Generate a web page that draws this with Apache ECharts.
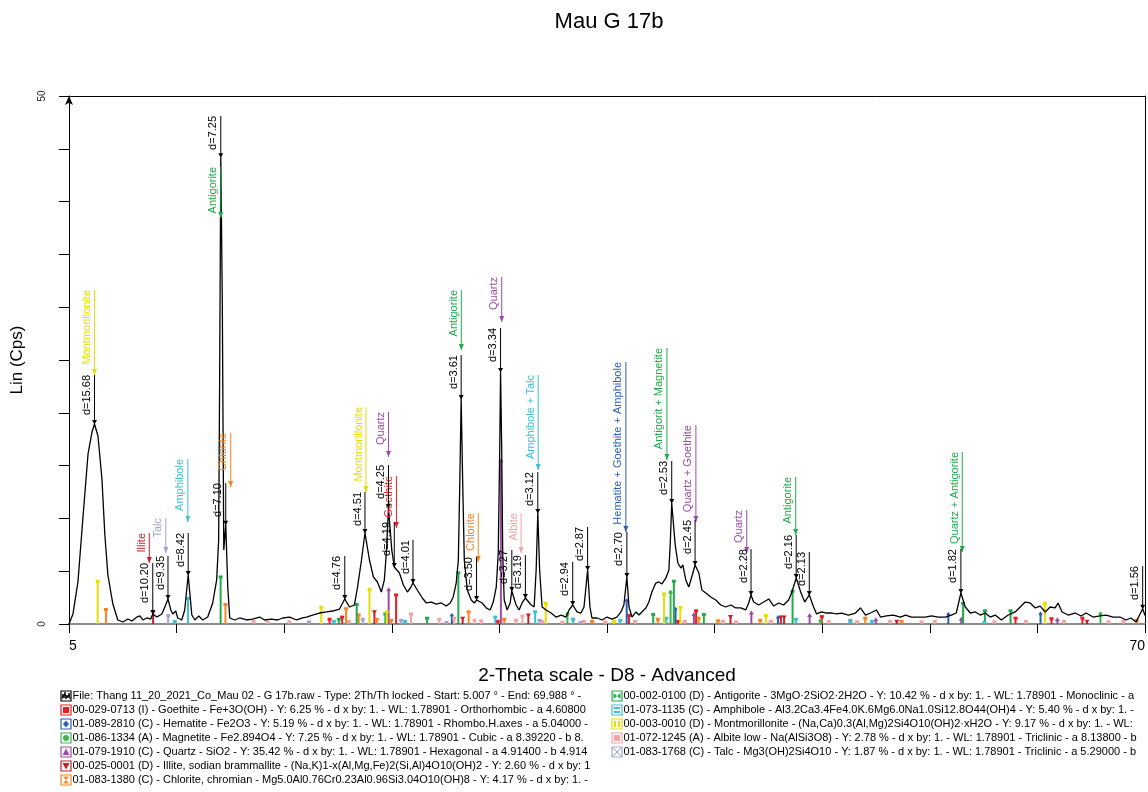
<!DOCTYPE html>
<html><head><meta charset="utf-8">
<script src="https://cdn.jsdelivr.net/npm/echarts@6/dist/echarts.min.js"></script>
<style>html,body{margin:0;padding:0;background:#fff}#c{width:1148px;height:792px}</style>
</head><body><div id="c"></div>
<script>
// ---------- DATA ----------
const chartTitle = 'Mau G 17b';
const xTickLabels = [5, 70];
const yTickLabels = [0, 50];

// measured pattern: [2-theta, Lin (Cps)]
const profile = [[5.00,0],[5.24,0.95],[5.54,3.98],[5.84,10.04],[6.15,16.10],[6.39,18.18],[6.54,18.94],[6.75,17.80],[6.99,13.73],[7.17,8.33],[7.35,4.64],[7.65,1.89],[7.95,0.38],[8.26,0.19],[8.56,0.47],[8.80,0.28],[9.10,0.66],[9.28,0.76],[9.46,0.38],[9.70,0.57],[9.94,0.47],[10.06,0.95],[10.31,0.66],[10.61,0.95],[10.79,1.61],[10.98,2.37],[11.15,1.33],[11.27,0.95],[11.45,1.23],[11.57,0.57],[11.81,0.38],[11.99,1.33],[12.20,4.64],[12.42,0.85],[12.60,0.38],[12.84,0.76],[13.08,0.38],[13.38,0.66],[13.68,1.99],[13.92,4.17],[14.04,7.95],[14.10,23.1],[14.17,44.2],[14.26,30.7],[14.35,7.0],[14.47,9.4],[14.59,3.5],[14.71,0.57],[15.01,0.38],[15.31,0.57],[15.73,0.38],[16.09,0.47],[16.52,0.66],[16.82,0.38],[17.24,0.47],[17.60,0.38],[17.90,0.57],[18.33,0.66],[18.75,0.38],[19.11,0.57],[19.35,0.66],[19.71,0.85],[20.13,1.04],[20.56,1.14],[20.92,1.23],[21.34,1.42],[21.66,2.37],[21.94,1.61],[22.24,1.80],[22.43,3.50],[22.67,6.06],[22.88,8.62],[23.15,6.06],[23.39,4.45],[23.63,3.98],[23.87,3.03],[24.05,4.17],[24.17,6.72],[24.30,10.98],[24.50,7.0],[24.65,5.40],[24.96,4.83],[25.20,3.69],[25.44,3.03],[25.62,3.41],[25.78,3.88],[26.04,3.22],[26.34,2.46],[26.59,1.99],[26.89,2.08],[27.19,1.89],[27.49,1.99],[27.79,1.70],[28.03,1.99],[28.21,2.56],[28.39,3.88],[28.52,6.06],[28.61,13.6],[28.69,21.3],[28.78,13.6],[28.88,6.06],[29.06,3.22],[29.30,2.27],[29.48,1.99],[29.62,2.27],[29.96,1.99],[30.20,1.52],[30.44,1.33],[30.63,2.08],[30.81,3.50],[30.93,6.72],[31.02,16.5],[31.07,23.86],[31.14,16.5],[31.20,6.72],[31.29,2.27],[31.47,1.33],[31.65,1.99],[31.75,3.13],[32.01,1.80],[32.19,1.33],[32.37,1.99],[32.57,2.46],[32.92,1.80],[33.10,1.61],[33.22,5.11],[33.32,10.51],[33.43,5.11],[33.58,1.61],[33.82,1.33],[34.12,1.04],[34.42,0.66],[34.73,0.85],[35.03,0.66],[35.21,1.33],[35.43,1.80],[35.69,1.14],[35.93,1.04],[36.11,1.61],[36.33,5.11],[36.47,1.61],[36.59,0.57],[36.90,0.57],[37.20,0.38],[37.50,0.66],[37.80,0.47],[38.10,0.66],[38.34,1.14],[38.52,1.80],[38.70,4.45],[38.83,1.61],[39.01,0.66],[39.25,1.14],[39.43,0.85],[39.61,1.14],[39.85,1.52],[40.03,2.08],[40.21,3.03],[40.45,3.88],[40.63,3.98],[40.82,3.79],[41.06,4.36],[41.24,5.11],[41.33,7.95],[41.41,11.46],[41.52,9.38],[41.62,7.48],[41.78,5.78],[41.96,5.30],[42.08,5.59],[42.26,4.17],[42.44,3.50],[42.62,4.45],[42.82,5.59],[43.05,4.83],[43.23,3.22],[43.47,2.94],[43.77,2.56],[44.07,2.27],[44.37,1.80],[44.67,1.61],[44.98,1.80],[45.28,1.52],[45.58,1.52],[45.88,1.33],[46.06,1.99],[46.20,2.75],[46.36,2.08],[46.66,1.80],[46.97,2.08],[47.27,2.37],[47.57,1.70],[47.87,1.99],[48.17,1.80],[48.47,2.27],[48.65,2.94],[48.93,4.36],[49.20,3.03],[49.44,2.08],[49.72,2.75],[49.98,1.61],[50.16,0.95],[50.46,1.14],[50.76,1.04],[51.07,1.04],[51.37,0.95],[51.67,1.04],[52.09,0.85],[52.51,1.04],[52.81,1.52],[53.12,0.85],[53.42,1.04],[53.78,1.33],[54.02,0.66],[54.38,0.76],[54.80,0.85],[55.23,0.66],[55.53,0.85],[55.89,0.66],[56.31,0.66],[56.73,0.66],[57.10,0.76],[57.52,0.66],[57.94,0.66],[58.30,0.85],[58.60,1.04],[58.88,2.94],[59.14,1.61],[59.45,1.04],[59.75,1.14],[60.05,0.85],[60.35,1.04],[60.65,0.66],[60.95,0.85],[61.32,0.38],[61.74,0.85],[62.16,1.14],[62.46,1.61],[62.76,2.08],[63.06,1.99],[63.37,1.52],[63.67,1.70],[63.97,1.14],[64.27,1.61],[64.57,1.52],[64.75,1.99],[64.99,1.14],[65.36,0.85],[65.78,1.04],[66.14,0.76],[66.44,1.04],[66.86,0.66],[67.28,0.76],[67.65,0.85],[68.07,0.66],[68.49,0.66],[68.85,0.38],[69.15,0.57],[69.46,0.19],[69.86,1.45],[70.00,0.8]];

// reference patterns (sticks): [2-theta, height]
const goethiteSticks = [[20.74,0.5],[21.50,0.7],[24.76,2.8],[30.9,0.3],[38.83,0.85],[41.80,0.3],[42.88,1.3],[50.48,0.75],[62.18,0.6],[64.35,0.55],[66.22,0.6]];
const hematiteSticks = [[28.13,0.8],[38.69,2.2],[41.64,1.4],[47.83,0.6],[58.12,0.9],[63.69,0.95]];
const magnetiteSticks = [[35.11,0.95],[41.34,3.0],[50.40,0.3],[67.31,0.95]];
const quartzSticks = [[24.31,3.3],[31.09,15.5],[42.75,0.95],[46.22,1.1],[49.74,0.85],[53.74,0.45],[58.90,0.5],[64.71,0.45]];
const illiteSticks = [[10.08,1.17],[23.45,1.2],[28.78,0.6],[32.75,0.9],[44.96,0.75],[48.00,0.7],[48.20,0.7],[55.00,0.3],[66.50,0.3]];
const chloriteSticks = [[7.23,1.42],[14.45,1.89],[21.74,1.5],[22.50,0.9],[23.59,0.5],[24.46,0.4],[29.14,1.2],[31.29,0.5],[36.60,0.3],[40.57,0.5],[43.04,0.6],[44.20,0.35],[46.76,0.4],[52.20,0.4],[53.10,0.6],[55.30,0.3],[69.50,0.4]];
const antigoriteSticks = [[14.16,4.5],[21.30,0.5],[22.38,1.9],[24.11,1.0],[26.63,0.6],[28.52,4.9],[40.29,0.95],[41.54,4.1],[43.35,0.95],[48.71,3.15],[59.01,2.0],[60.33,1.3],[61.88,1.3]];
const amphiboleSticks = [[11.39,0.28],[12.19,2.46],[21.00,0.3],[25.30,0.3],[30.75,0.7],[33.16,1.2],[35.45,0.5],[38.30,0.4],[41.08,0.6],[48.91,0.5],[52.20,0.3],[53.50,0.3],[60.30,0.2]];
const montmorilloniteSticks = [[6.73,4.07],[20.24,1.64],[23.15,3.3],[24.19,1.2],[33.80,2.0],[37.92,0.3],[40.94,2.9],[41.93,1.6],[47.10,0.85],[63.95,2.0]];
const albiteSticks = [[16.15,0.3],[17.00,0.2],[18.30,0.25],[21.90,0.3],[25.66,1.0],[27.37,0.5],[28.27,0.6],[29.50,0.4],[29.90,0.35],[32.00,0.4],[32.39,0.8],[33.60,0.3],[34.80,0.2],[36.10,0.3],[37.40,0.25],[39.20,0.3],[42.20,0.3],[44.50,0.3],[45.30,0.25],[47.40,0.3],[50.90,0.3],[52.60,0.25],[54.60,0.3],[56.50,0.25],[57.30,0.3],[60.90,0.25],[62.80,0.3],[65.10,0.3],[67.80,0.25],[68.70,0.3]];
const talcSticks = [[10.99,0.85],[19.50,0.25],[22.75,0.5],[25.06,0.4],[27.80,0.2],[33.42,0.4],[35.90,0.2]];

// d-spacing peak labels
const dText = ['d=15.68','d=10.20','d=9.35','d=8.42','d=7.25','d=7.10','d=4.76','d=4.51','d=4.25','d=4.19','d=4.01','d=3.61','d=3.50','d=3.34','d=3.27','d=3.19','d=3.12','d=2.94','d=2.87','d=2.70','d=2.53','d=2.45','d=2.28','d=2.16','d=2.13','d=1.82','d=1.56'];
const dPos = [6.54,10.06,10.98,12.20,14.17,14.47,21.66,22.88,24.30,24.65,25.78,28.69,29.62,31.07,31.75,32.57,33.32,35.43,36.33,38.70,41.41,42.82,46.20,48.93,49.72,58.88,69.86];
const dPeak = [18.94,0.95,2.37,4.64,44.2,9.4,2.37,8.62,10.98,5.40,3.88,21.3,2.27,23.86,3.13,2.46,10.51,1.80,5.11,4.45,11.46,5.59,2.75,4.36,2.75,2.94,1.45];
const dTop = [23.58,5.78,6.44,8.62,48.11,13.35,6.44,12.50,15.06,9.66,7.95,25.47,6.34,28.03,7.01,6.53,14.39,5.87,9.19,8.71,15.44,9.85,7.10,8.43,6.82,7.10,5.49];

// phase identification labels
const pText = ['Montmorillonite','Illite','Talc','Amphibole','Antigorite','Chlorite','Montmorillonite','Quartz','Goethite','Antigorite','Quartz','Chlorite','Albite','Amphibole + Talc','Hematite + Goethite + Amphibole','Antigorit + Magnetite','Quartz + Goethite','Quartz','Antigorite','Quartz + Antigorite'];
const pPhase = ['mont','illite','talc','amph','antig','chlor','mont','quartz','goeth','antig','quartz','chlor','albite','amph','hem','antig','quartz','quartz','antig','antig'];
const pPos = [6.54,9.85,10.85,12.18,14.17,14.77,22.94,24.30,24.78,28.70,31.14,29.72,32.31,33.34,38.64,41.12,42.87,45.94,48.90,58.96];
const pTip = [23.58,5.78,6.72,9.66,38.45,12.97,12.5,15.81,9.09,25.95,28.6,5.87,6.72,14.58,8.71,15.53,9.66,6.72,8.43,6.82];
const pTop = [31.63,8.62,10.04,15.63,43.28,18.09,20.55,20.08,14.02,31.63,32.86,10.51,10.51,23.58,24.81,26.14,18.84,10.80,13.92,16.29];

// legend
const legendLeftText = [
 'File: Thang 11_20_2021_Co_Mau 02 - G 17b.raw - Type: 2Th/Th locked - Start: 5.007 ° - End: 69.988 ° -',
 '00-029-0713 (I) - Goethite - Fe+3O(OH) - Y: 6.25 % - d x by: 1. - WL: 1.78901 - Orthorhombic - a 4.60800',
 '01-089-2810 (C) - Hematite - Fe2O3 - Y: 5.19 % - d x by: 1. - WL: 1.78901 - Rhombo.H.axes - a 5.04000 -',
 '01-086-1334 (A) - Magnetite - Fe2.894O4 - Y: 7.25 % - d x by: 1. - WL: 1.78901 - Cubic - a 8.39220 - b 8.',
 '01-079-1910 (C) - Quartz - SiO2 - Y: 35.42 % - d x by: 1. - WL: 1.78901 - Hexagonal - a 4.91400 - b 4.914',
 '00-025-0001 (D) - Illite, sodian brammallite - (Na,K)1-x(Al,Mg,Fe)2(Si,Al)4O10(OH)2 - Y: 2.60 % - d x by: 1',
 '01-083-1380 (C) - Chlorite, chromian - Mg5.0Al0.76Cr0.23Al0.96Si3.04O10(OH)8 - Y: 4.17 % - d x by: 1. -'];
const legendLeftIcon = ['file','goeth','hem','magn','quartz','illite','chlor'];
const legendRightText = [
 '00-002-0100 (D) - Antigorite - 3MgO·2SiO2·2H2O - Y: 10.42 % - d x by: 1. - WL: 1.78901 - Monoclinic - a',
 '01-073-1135 (C) - Amphibole - Al3.2Ca3.4Fe4.0K.6Mg6.0Na1.0Si12.8O44(OH)4 - Y: 5.40 % - d x by: 1. -',
 '00-003-0010 (D) - Montmorillonite - (Na,Ca)0.3(Al,Mg)2Si4O10(OH)2·xH2O - Y: 9.17 % - d x by: 1. - WL:',
 '01-072-1245 (A) - Albite low - Na(AlSi3O8) - Y: 2.78 % - d x by: 1. - WL: 1.78901 - Triclinic - a 8.13800 - b',
 '01-083-1768 (C) - Talc - Mg3(OH)2Si4O10 - Y: 1.87 % - d x by: 1. - WL: 1.78901 - Triclinic - a 5.29000 - b'];
const legendRightIcon = ['antig','amph','mont','albite','talc'];

// ---------- STYLE ----------
const FONT = '"Liberation Sans", Arial, sans-serif';
const phaseColor = {goeth:'#ee1c24', hem:'#2b5fb4', magn:'#3db54a', quartz:'#9b4ca6', illite:'#c81e2a', chlor:'#f7841f', antig:'#22ab4b', amph:'#3fc0d2', mont:'#e6de00', albite:'#f5a3a3', talc:'#a3a3d6', file:'#000'};
const phaseShape = {goeth:'rect', hem:'diamond', magn:'circle', quartz:'tri', illite:'tridown', chlor:'rect', antig:'rect', amph:'rect', mont:'rect', albite:'rect', talc:'rect'};

function marker(shape, x, y, color){
  if (shape==='tri') return {type:'polygon', shape:{points:[[x-2.5,y+2],[x+2.5,y+2],[x,y-2]]}, style:{fill:color}};
  if (shape==='tridown') return {type:'polygon', shape:{points:[[x-2.5,y-1],[x+2.5,y-1],[x,y+3]]}, style:{fill:color}};
  if (shape==='circle') return {type:'circle', shape:{cx:x, cy:y, r:2}, style:{fill:color}};
  if (shape==='diamond') return {type:'polygon', shape:{points:[[x,y-2.5],[x+2,y],[x,y+2.5],[x-2,y]]}, style:{fill:color}};
  return {type:'rect', shape:{x:x-2, y:y-1, width:4, height:3}, style:{fill:color}};
}

function stickSeries(data, key){
  const color = phaseColor[key], shape = phaseShape[key];
  return {type:'custom', data, silent:true, z:3, clip:true,
    renderItem:(params, api)=>{
      const x = api.value(0), h = api.value(1);
      const p0 = api.coord([x,0]), p1 = api.coord([x,h]);
      return {type:'group', children:[
        {type:'line', shape:{x1:p0[0], y1:p0[1], x2:p1[0], y2:p1[1]}, style:{stroke:color, lineWidth:2}},
        marker(shape, p1[0], p1[1], color)]};
    }};
}

const dData = dPos.map((x,i)=>[x, dPeak[i], dTop[i]]);
const pData = pPos.map((x,i)=>[x, pTip[i], pTop[i]]);

function dRender(params, api){
  const i = params.dataIndex;
  const a = api.coord([api.value(0), api.value(1)]), b = api.coord([api.value(0), api.value(2)]);
  return {type:'group', children:[
    {type:'line', shape:{x1:a[0], y1:a[1], x2:b[0], y2:b[1]}, style:{stroke:'#000', lineWidth:1}},
    {type:'polygon', shape:{points:[[a[0]-2.5,a[1]-4],[a[0]+2.5,a[1]-4],[a[0],a[1]+0.5]]}, style:{fill:'#000'}},
    {type:'text', x:b[0]-2, y:b[1], rotation:Math.PI/2,
     style:{text:dText[i], fill:'#000', font:'11px '+FONT, align:'right', verticalAlign:'bottom'}}
  ]};
}
function pRender(params, api){
  const i = params.dataIndex, color = phaseColor[pPhase[i]];
  const a = api.coord([api.value(0), api.value(1)]), b = api.coord([api.value(0), api.value(2)]);
  return {type:'group', children:[
    {type:'line', shape:{x1:a[0], y1:a[1], x2:b[0], y2:b[1]}, style:{stroke:color, lineWidth:1}},
    {type:'polygon', shape:{points:[[a[0]-2.5,a[1]-6],[a[0]+2.5,a[1]-6],[a[0],a[1]]]}, style:{fill:color}},
    {type:'text', x:b[0]-2, y:b[1], rotation:Math.PI/2,
     style:{text:pText[i], fill:color, font:'11px '+FONT, align:'right', verticalAlign:'bottom'}}
  ]};
}

// legend graphics
function legendIcon(key, cx, cy){
  const c = phaseColor[key];
  const els = [{type:'rect', shape:{x:cx-5, y:cy-5, width:10, height:10}, style:{fill:'#fff', stroke:c, lineWidth:1.2}}];
  if (key==='file') els.push({type:'polyline', shape:{points:[[cx-4,cy+3],[cx-3,cy-2],[cx-2,cy+2],[cx-1,cy-4],[cx,cy+3],[cx+1,cy-1],[cx+2,cy+2],[cx+3,cy-3],[cx+4,cy+3]]}, style:{stroke:'#000', lineWidth:1, fill:null}});
  else if (key==='goeth' || key==='albite') els.push({type:'rect', shape:{x:cx-3, y:cy-3, width:6, height:6}, style:{fill:c}});
  else if (key==='hem') els.push({type:'polygon', shape:{points:[[cx,cy-3.5],[cx+3,cy],[cx,cy+3.5],[cx-3,cy]]}, style:{fill:c}});
  else if (key==='magn') els.push({type:'circle', shape:{cx, cy, r:3}, style:{fill:c}});
  else if (key==='quartz') els.push({type:'polygon', shape:{points:[[cx-3.5,cy+3],[cx+3.5,cy+3],[cx,cy-3.5]]}, style:{fill:c}});
  else if (key==='illite') els.push({type:'polygon', shape:{points:[[cx-3.5,cy-3],[cx+3.5,cy-3],[cx,cy+3.5]]}, style:{fill:c}});
  else if (key==='chlor') els.push({type:'polygon', shape:{points:[[cx-3,cy-3.5],[cx+3,cy-3.5],[cx-3,cy+3.5],[cx+3,cy+3.5]]}, style:{fill:c}});
  else if (key==='antig') els.push({type:'polygon', shape:{points:[[cx-3.5,cy-3],[cx-3.5,cy+3],[cx+3.5,cy-3],[cx+3.5,cy+3]]}, style:{fill:c}});
  else if (key==='amph') { els.push({type:'rect', shape:{x:cx-3, y:cy-3, width:6, height:2}, style:{fill:c}}); els.push({type:'rect', shape:{x:cx-3, y:cy+1, width:6, height:2}, style:{fill:c}}); }
  else if (key==='mont') { els.push({type:'rect', shape:{x:cx-3, y:cy-3, width:2, height:6}, style:{fill:c}}); els.push({type:'rect', shape:{x:cx+1, y:cy-3, width:2, height:6}, style:{fill:c}}); }
  else if (key==='talc') els.push({type:'polyline', shape:{points:[[cx-4,cy-4],[cx+4,cy+4]]}, style:{stroke:c, lineWidth:1}}, {type:'polyline', shape:{points:[[cx+4,cy-4],[cx-4,cy+4]]}, style:{stroke:c, lineWidth:1}});
  return els;
}
const graphics = [];
legendLeftText.forEach((t,i)=>{
  const cy = 696 + i*14;
  graphics.push(...legendIcon(legendLeftIcon[i], 66, cy));
  graphics.push({type:'text', x:72.5, y:cy, style:{text:t, fill:'#000', font:'11px '+FONT, verticalAlign:'middle'}});
});
legendRightText.forEach((t,i)=>{
  const cy = 696 + i*14;
  graphics.push(...legendIcon(legendRightIcon[i], 617, cy));
  graphics.push({type:'text', x:623.5, y:cy, style:{text:t, fill:'#000', font:'11px '+FONT, verticalAlign:'middle'}});
});

const near = (v, arr) => arr.some(a => Math.abs(a - v) < 1e-6);

const option = {
  animation:false,
  backgroundColor:'#fff',
  title:{text:chartTitle, left:604, top:6, textAlign:'center', textStyle:{fontFamily:FONT, fontSize:22, fontWeight:'normal', color:'#000'}},
  grid:{left:69, top:96, width:1078, height:528, containLabel:false},
  xAxis:[
    {type:'value', min:5, max:70, interval:6.5, position:'bottom',
     axisLine:{show:true, onZero:false, lineStyle:{color:'#8c8c8c', width:2}},
     axisTick:{show:true, length:9, lineStyle:{color:'#000', width:1}},
     axisLabel:{show:true, margin:15, fontFamily:FONT, fontSize:14, color:'#000', showMinLabel:true, showMaxLabel:true, alignMinLabel:'left', alignMaxLabel:'right',
       formatter:v => near(v, xTickLabels) ? String(Math.round(v)) : ''},
     splitLine:{show:false},
     name:'2-Theta scale - D8 - Advanced', nameLocation:'middle', nameGap:42,
     nameTextStyle:{fontFamily:FONT, fontSize:19, color:'#000'}},
    {type:'value', min:5, max:70, position:'top',
     axisLine:{show:true, onZero:false, lineStyle:{color:'#000', width:1}},
     axisTick:{show:false}, axisLabel:{show:false}, splitLine:{show:false}}
  ],
  yAxis:[
    {type:'value', min:0, max:50, interval:5, position:'left',
     axisLine:{show:true, onZero:false, symbol:['none','arrow'], symbolSize:[6,9], lineStyle:{color:'#000', width:1}},
     axisTick:{show:true, length:10, lineStyle:{color:'#000', width:1}},
     axisLabel:{show:true, rotate:90, margin:22, fontFamily:FONT, fontSize:10, color:'#222', showMinLabel:true, showMaxLabel:true,
       formatter:v => near(v, yTickLabels) ? String(Math.round(v)) : ''},
     splitLine:{show:false},
     name:'Lin (Cps)', nameLocation:'middle', nameGap:43, nameRotate:90,
     nameTextStyle:{fontFamily:FONT, fontSize:17, color:'#000'}},
    {type:'value', min:0, max:50, position:'right',
     axisLine:{show:true, onZero:false, lineStyle:{color:'#000', width:1}},
     axisTick:{show:false}, axisLabel:{show:false}, splitLine:{show:false}}
  ],
  series:[
    {type:'line', data:profile, showSymbol:false, symbol:'none', silent:true, z:4,
     lineStyle:{color:'#000', width:1.3}},
    stickSeries(goethiteSticks,'goeth'),
    stickSeries(hematiteSticks,'hem'),
    stickSeries(magnetiteSticks,'magn'),
    stickSeries(quartzSticks,'quartz'),
    stickSeries(illiteSticks,'illite'),
    stickSeries(chloriteSticks,'chlor'),
    stickSeries(antigoriteSticks,'antig'),
    stickSeries(amphiboleSticks,'amph'),
    stickSeries(montmorilloniteSticks,'mont'),
    stickSeries(albiteSticks,'albite'),
    stickSeries(talcSticks,'talc'),
    {type:'custom', data:dData, renderItem:dRender, silent:true, z:6, clip:false},
    {type:'custom', data:pData, renderItem:pRender, silent:true, z:5, clip:false}
  ],
  graphic:graphics
};
const chart = echarts.init(document.getElementById('c'), null, {renderer:'canvas'});
chart.setOption(option);
</script>
</body></html>
